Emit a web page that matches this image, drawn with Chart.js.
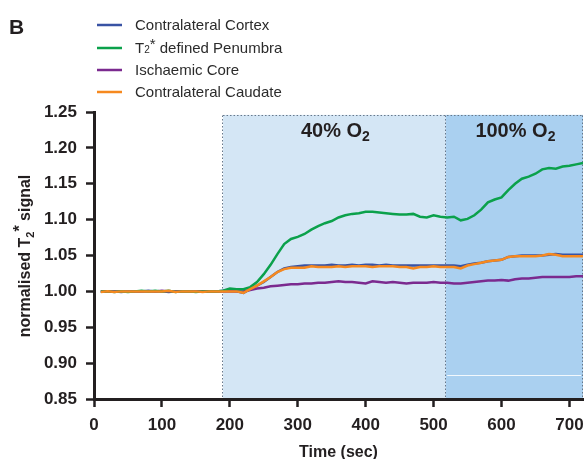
<!DOCTYPE html>
<html>
<head>
<meta charset="utf-8">
<script src="https://cdn.jsdelivr.net/npm/chart.js@4"></script>
<style>
  body { margin: 0; background: #fff; }
  #wrap { width: 584px; height: 459px; position: relative; }
</style>
</head>
<body>
<div id="wrap"><canvas id="t2chart"></canvas></div>
<script>
// time points (sec)
var times = [];
for (var t = 10; t <= 720; t += 10) times.push(t);

var cortex = [1.000,1.000,1.000,0.999,1.000,1.000,1.000,1.001,1.000,1.000,0.999,1.000,1.000,1.000,1.000,1.000,1.000,1.000,1.001,
  1.001,1.000,0.998,1.003,1.008,1.013,1.020,1.027,1.032,1.034,1.035,1.036,1.036,1.036,1.036,1.037,1.036,1.036,1.037,1.036,
  1.037,1.037,1.036,1.037,1.036,1.036,1.036,1.036,1.036,1.036,1.036,1.036,1.036,1.036,1.035,1.037,1.039,1.040,1.042,1.043,
  1.044,1.048,1.049,1.050,1.050,1.050,1.050,1.051,1.052,1.051,1.051,1.051,1.051];

var penumbra = [1.000,1.000,0.999,1.000,0.999,1.000,1.001,1.000,1.001,1.000,1.001,0.999,1.000,1.000,0.999,1.000,1.000,1.000,1.001,
  1.004,1.003,1.003,1.006,1.013,1.024,1.037,1.052,1.066,1.073,1.076,1.080,1.086,1.091,1.095,1.098,1.103,1.106,1.108,1.109,
  1.111,1.111,1.110,1.109,1.108,1.107,1.107,1.108,1.104,1.103,1.106,1.104,1.103,1.104,1.099,1.101,1.106,1.114,1.124,1.128,
  1.131,1.141,1.150,1.157,1.160,1.164,1.170,1.172,1.171,1.174,1.175,1.177,1.179];

var core = [1.000,1.000,1.000,1.000,1.000,1.000,1.000,1.000,1.000,1.001,1.000,1.000,1.000,1.000,1.000,1.000,1.000,1.000,1.000,
  1.000,1.000,1.000,1.002,1.004,1.005,1.007,1.008,1.009,1.010,1.010,1.011,1.011,1.012,1.012,1.013,1.014,1.013,1.013,1.012,
  1.011,1.014,1.013,1.012,1.013,1.012,1.011,1.012,1.012,1.012,1.013,1.012,1.012,1.011,1.011,1.012,1.013,1.014,1.015,1.015,
  1.016,1.015,1.017,1.018,1.018,1.019,1.020,1.020,1.020,1.020,1.020,1.021,1.021];

var caudate = [0.999,1.000,0.999,1.000,1.000,1.000,1.000,1.000,1.000,1.000,1.001,0.999,1.000,1.000,1.000,0.999,1.000,1.000,1.000,
  1.000,1.000,0.998,1.003,1.008,1.014,1.020,1.027,1.031,1.033,1.033,1.033,1.035,1.034,1.034,1.034,1.035,1.034,1.035,1.035,
  1.035,1.034,1.035,1.035,1.035,1.034,1.034,1.032,1.034,1.034,1.035,1.034,1.034,1.034,1.032,1.036,1.038,1.040,1.042,1.043,
  1.044,1.048,1.049,1.049,1.049,1.049,1.050,1.052,1.051,1.049,1.049,1.049,1.049];

// oxygen phases
var phaseStart = [190, 518];
var phaseEnd = [518, 720];
var phasePct = ['40%', '100%'];
var phaseFill = ['#d4e6f5', '#aad0f0'];

var ink = '#231f20';
var fam = '"Liberation Sans", Arial, sans-serif';

function pts(arr) {
  return times.map(function (t, i) { return { x: t, y: arr[i] }; });
}

// draw a run of text pieces, each with own font and baseline shift
function richWidth(ctx, parts) {
  var w = 0;
  parts.forEach(function (p) { ctx.font = p.font; w += ctx.measureText(p.text).width; });
  return w;
}
function drawRich(ctx, parts, x, y) {
  parts.forEach(function (p) {
    ctx.font = p.font;
    ctx.fillText(p.text, x, y + (p.dy || 0));
    x += ctx.measureText(p.text).width;
  });
}

var decor = {
  id: 'decor',
  beforeDraw: function (chart) {
    var c = chart.ctx, xs = chart.scales.x, ys = chart.scales.y;
    var top = ys.getPixelForValue(1.246), bot = ys.getPixelForValue(0.85);
    c.save();
    for (var i = 0; i < phaseStart.length; i++) {
      var x0 = xs.getPixelForValue(phaseStart[i]), x1 = xs.getPixelForValue(phaseEnd[i]);
      c.fillStyle = phaseFill[i];
      c.fillRect(x0, top, x1 - x0, bot - top);
    }
    // stray white rule in the 100% panel
    c.strokeStyle = 'rgba(255,255,255,0.85)';
    c.lineWidth = 1;
    var wy = Math.round(ys.getPixelForValue(0.8835)) + 0.5;
    c.beginPath();
    c.moveTo(xs.getPixelForValue(520), wy);
    c.lineTo(xs.getPixelForValue(717), wy);
    c.stroke();
    // dotted borders
    c.strokeStyle = '#66778a';
    c.setLineDash([1.5, 2]);
    c.beginPath();
    var tp = Math.round(top) + 0.5;
    c.moveTo(xs.getPixelForValue(phaseStart[0]), tp);
    c.lineTo(xs.getPixelForValue(phaseEnd[1]), tp);
    [phaseStart[0], phaseStart[1], phaseEnd[1]].forEach(function (v) {
      var px = Math.round(xs.getPixelForValue(v)) - 0.5;
      c.moveTo(px, tp);
      c.lineTo(px, bot);
    });
    c.stroke();
    c.restore();
  },
  afterDatasetsDraw: function (chart) {
    var c = chart.ctx, xs = chart.scales.x, ys = chart.scales.y;
    c.save();
    c.fillStyle = ink;
    c.textBaseline = 'middle';
    c.textAlign = 'left';
    for (var i = 0; i < phaseStart.length; i++) {
      var parts = [
        { text: phasePct[i] + ' O', font: 'bold 20px ' + fam },
        { text: '2', font: 'bold 14px ' + fam, dy: 6 }
      ];
      var w = richWidth(c, parts);
      var cx = xs.getPixelForValue((phaseStart[i] + phaseEnd[i]) / 2);
      drawRich(c, parts, cx - w / 2 + 1, ys.getPixelForValue(1.223));
    }
    c.restore();
  },
  afterDraw: function (chart) {
    var c = chart.ctx, area = chart.chartArea;
    c.save();
    c.fillStyle = ink;
    c.textAlign = 'left';
    c.textBaseline = 'alphabetic';
    c.font = 'bold 21px ' + fam;
    c.fillText('B', 9, 34);

    // legend
    var rowY = [25, 48, 70, 92];
    chart.data.datasets.forEach(function (ds) {
      var y = rowY[ds.legendRow];
      c.strokeStyle = ds.borderColor;
      c.lineWidth = 2.5;
      c.beginPath();
      c.moveTo(97, y);
      c.lineTo(122, y);
      c.stroke();
      c.textBaseline = 'middle';
      c.fillStyle = '#2b2b2b';
      drawRich(c, ds.richLabel, 135, y + 1);
    });

    // x title
    c.fillStyle = ink;
    c.textBaseline = 'alphabetic';
    c.textAlign = 'center';
    c.font = 'bold 16px ' + fam;
    c.fillText('Time (sec)', (area.left + area.right) / 2, 457);

    // y title, rotated
    c.textAlign = 'left';
    c.textBaseline = 'middle';
    var yparts = [
      { text: 'normalised T', font: 'bold 16px ' + fam },
      { text: '2', font: 'bold 11px ' + fam, dy: 5 },
      { text: '*', font: 'bold 16px ' + fam, dy: -5 },
      { text: ' signal', font: 'bold 16px ' + fam }
    ];
    var yw = richWidth(c, yparts);
    c.translate(26, 256);
    c.rotate(-Math.PI / 2);
    drawRich(c, yparts, -yw / 2, 0);
    c.restore();
  }
};

var reg = '15px ' + fam;
var sml = '10px ' + fam;

var ctx = document.getElementById('t2chart').getContext('2d');
var myChart = new Chart(ctx, {
  type: 'line',
  data: {
    datasets: [{
      label: 'Contralateral Cortex',
      data: pts(cortex),
      borderColor: '#3953a4',
      order: 3,
      legendRow: 0,
      richLabel: [{ text: 'Contralateral Cortex', font: reg }]
    }, {
      label: 'T2* defined Penumbra',
      data: pts(penumbra),
      borderColor: '#0ba14b',
      order: 1,
      legendRow: 1,
      richLabel: [{ text: 'T', font: reg }, { text: '2', font: sml, dy: 1 }, { text: '*', font: reg, dy: -4 }, { text: ' defined Penumbra', font: reg }]
    }, {
      label: 'Ischaemic Core',
      data: pts(core),
      borderColor: '#7b2a8f',
      order: 2,
      legendRow: 2,
      richLabel: [{ text: 'Ischaemic Core', font: reg }]
    }, {
      label: 'Contralateral Caudate',
      data: pts(caudate),
      borderColor: '#f6891f',
      order: 0,
      legendRow: 3,
      richLabel: [{ text: 'Contralateral Caudate', font: reg }]
    }]
  },
  options: {
    responsive: true,
    maintainAspectRatio: false,
    animation: false,
    layout: { padding: { top: 112, right: 1, left: 0, bottom: 0 } },
    elements: {
      line: { borderWidth: 2.5, tension: 0, fill: false },
      point: { radius: 0 }
    },
    plugins: {
      legend: { display: false },
      tooltip: { enabled: false }
    },
    scales: {
      x: {
        type: 'linear',
        min: 0,
        max: 720,
        afterFit: function (s) { s.height = 60; s.paddingRight = 0; s.paddingLeft = 0; },
        ticks: {
          stepSize: 100,
          includeBounds: false,
          color: ink,
          padding: 8,
          maxRotation: 0,
          font: { family: fam, size: 17, weight: 'bold' }
        },
        grid: { drawOnChartArea: false, drawTicks: true, tickLength: 8, tickWidth: 2.5, tickColor: ink },
        border: { display: true, width: 3, color: ink }
      },
      y: {
        min: 0.85,
        max: 1.25,
        afterFit: function (s) { s.width = 94; s.paddingTop = 0; s.paddingBottom = 0; },
        ticks: {
          stepSize: 0.05,
          color: ink,
          padding: 9,
          font: { family: fam, size: 17, weight: 'bold' },
          callback: function (v) { return v.toFixed(2); }
        },
        grid: { drawOnChartArea: false, drawTicks: true, tickLength: 8, tickWidth: 2.5, tickColor: ink },
        border: { display: true, width: 3, color: ink }
      }
    }
  },
  plugins: [decor]
});
</script>
</body>
</html>
